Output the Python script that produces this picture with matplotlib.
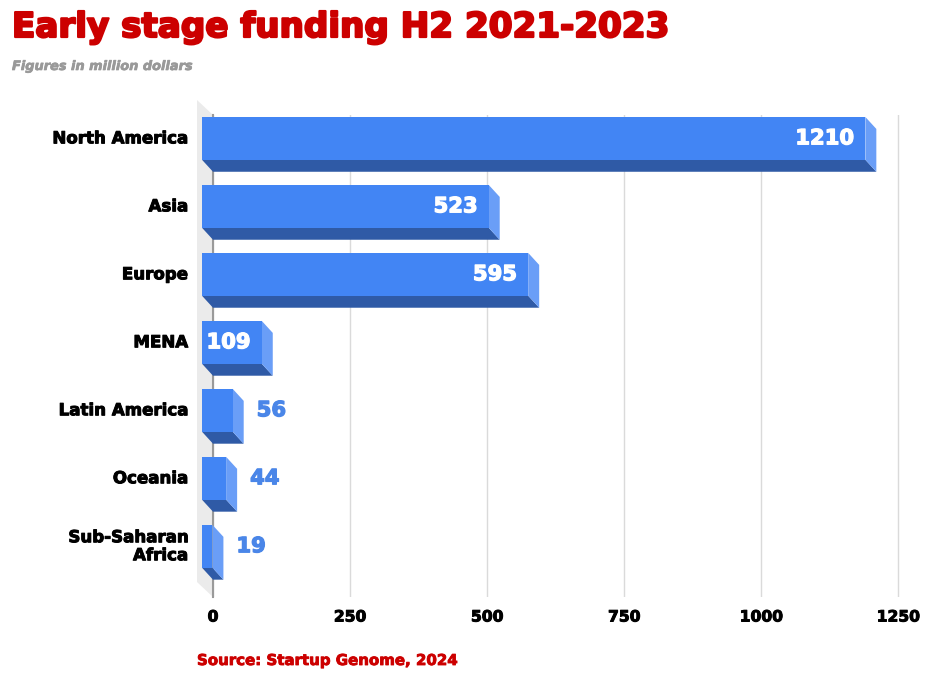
import matplotlib.pyplot as plt
import matplotlib.transforms as mtransforms
import matplotlib.patheffects as pe
from matplotlib.patches import Polygon

plt.rcParams['font.family'] = ['DejaVu Sans']

# data
regions = ['North America', 'Asia', 'Europe', 'MENA', 'Latin America', 'Oceania', 'Sub-Saharan\nAfrica']
funding = [1210, 523, 595, 109, 56, 44, 19]
ticks = [0, 250, 500, 750, 1000, 1250]

FRONT = '#4285f4'
SIDE = '#6a9ef7'
BOTTOM = '#2f5aa6'
RED = '#cc0000'


def heavy(color, lw):
    # thicken the bold glyphs a little, like a black-weight face
    return [pe.Stroke(linewidth=lw, foreground=color), pe.Normal()]


W, H = 935, 675
fig = plt.figure(figsize=(W / 100, H / 100), dpi=100)

# axes = back plane of the 3d box
left, right, top, bottom = 213, 901, 115, 597
ax = fig.add_axes([left / W, 1 - bottom / H, (right - left) / W, (bottom - top) / H])
ax.set_xlim(0, 1255)
ax.set_ylim(6.57, -0.52)
for s in ax.spines.values():
    s.set_visible(False)
ax.set_yticks([])
ax.set_xticks(ticks)
ax.set_xticklabels([str(t) for t in ticks], fontsize=11.2, fontweight='bold')
for lab in ax.get_xticklabels():
    lab.set_path_effects(heavy('black', 0.7))
ax.tick_params(axis='x', length=0, pad=9)
ax.grid(axis='x', color='#dadada', lw=1)
ax.set_axisbelow(True)


def px_to_data(dx, dy):
    p0 = ax.transData.transform((0, 0))
    p1 = ax.transData.inverted().transform(p0 + [dx, dy])
    return p1[0], p1[1]


# wall at x=0
wx, wy = px_to_data(-16, 15)
y0, y1 = ax.get_ylim()
wall = Polygon([(0, y1), (0, y0), (wx, y0 + wy), (wx, y1 + wy)], closed=True,
               facecolor='#ebebeb', edgecolor='none', clip_on=False, zorder=1)
ax.add_patch(wall)
ax.plot([0, 0], [y1, y0], color='#9a9a9a', lw=1.5, clip_on=False, zorder=2)

# 3d bars
dx, dy = px_to_data(-11, 12)
h = 0.63
for i, v in enumerate(funding):
    t, b = i - h / 2, i + h / 2
    bot = Polygon([(dx, b + dy), (v + dx, b + dy), (v, b), (0, b)], closed=True,
                  facecolor=BOTTOM, edgecolor='none', clip_on=False, zorder=3)
    side = Polygon([(v + dx, t + dy), (v, t), (v, b), (v + dx, b + dy)], closed=True,
                   facecolor=SIDE, edgecolor='none', clip_on=False, zorder=3)
    front = Polygon([(dx, t + dy), (v + dx, t + dy), (v + dx, b + dy), (dx, b + dy)], closed=True,
                    facecolor=FRONT, edgecolor='none', clip_on=False, zorder=4)
    ax.add_patch(bot)
    ax.add_patch(side)
    ax.add_patch(front)

    if v > 100:
        off = mtransforms.ScaledTranslation(-22 / 100, 12 / 100, fig.dpi_scale_trans)
        ax.text(v, i, str(v), transform=ax.transData + off, ha='right', va='center',
                color='white', fontsize=15.2, fontweight='bold', zorder=5,
                path_effects=heavy('white', 0.9))
    else:
        off = mtransforms.ScaledTranslation(13 / 100, 12 / 100, fig.dpi_scale_trans)
        ax.text(v, i, str(v), transform=ax.transData + off, ha='left', va='center',
                color='#4a86e8', fontsize=15.2, fontweight='bold', zorder=5,
                path_effects=heavy('#4a86e8', 0.9))

# category labels, aligned with the front faces
lab_off = mtransforms.ScaledTranslation(-25 / 100, 12 / 100, fig.dpi_scale_trans)
for i, name in enumerate(regions):
    ax.text(0, i, name, transform=ax.get_yaxis_transform() + lab_off, ha='right', va='center',
            multialignment='right', fontsize=12, fontweight='bold', linespacing=1.0,
            path_effects=heavy('black', 0.7))

fig.text(12 / W, 1 - 37 / H, 'Early stage funding H2 2021-2023', color=RED,
         fontsize=24.6, fontweight='bold', va='baseline', path_effects=heavy(RED, 1.6))
fig.text(12 / W, 1 - 70 / H, 'Figures in million dollars', color='#999999',
         fontsize=9.3, fontweight='bold', style='italic', va='baseline',
         path_effects=heavy('#999999', 0.5))
fig.text(197 / W, 1 - 665 / H, 'Source: Startup Genome, 2024', color=RED,
         fontsize=10.8, fontweight='bold', va='baseline', path_effects=heavy(RED, 0.6))

fig.savefig('out.png', dpi=100)
